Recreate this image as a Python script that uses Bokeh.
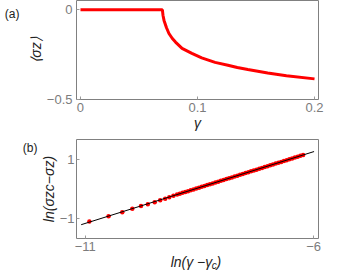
from bokeh.plotting import figure
from bokeh.models import FixedTicker, Range1d, LinearAxis
from bokeh.layouts import column
from bokeh.embed import file_html
from bokeh.resources import INLINE

# ---- panel (a): <sigma_z> versus gamma ----
gamma = [0.000, 0.0700, 0.0705, 0.0714, 0.0735, 0.0756, 0.0785, 0.0812, 0.0868,
         0.0952, 0.1036, 0.1150, 0.1260, 0.1340, 0.1430, 0.1600, 0.1760, 0.2000]
sigma_z = [0.000, 0.000, -0.030, -0.059, -0.100, -0.132, -0.160, -0.180, -0.215,
           -0.243, -0.268, -0.293, -0.309, -0.322, -0.333, -0.352, -0.367, -0.385]

# ---- panel (b): log-log scaling, points and fit ----
ln_dgamma = [-10.91, -10.49, -10.19, -9.97, -9.78, -9.63, -9.48, -9.36, -9.25, -9.16, -9.07,
             -8.99, -8.93, -8.87, -8.81, -8.75, -8.69, -8.63, -8.57, -8.51, -8.45,
             -8.39, -8.33, -8.27, -8.21, -8.15, -8.09, -8.03, -7.97, -7.91, -7.85,
             -7.79, -7.73, -7.67, -7.61, -7.55, -7.49, -7.43, -7.37, -7.31, -7.25,
             -7.19, -7.13, -7.07, -7.01, -6.95, -6.89, -6.83, -6.77, -6.71, -6.65,
             -6.59, -6.53, -6.47, -6.41, -6.35, -6.29, -6.23]
ln_dsigma = [-1.10, -0.92, -0.79, -0.67, -0.58, -0.52, -0.45, -0.38, -0.33, -0.28, -0.23,
             -0.189, -0.160, -0.131, -0.102, -0.073, -0.043, -0.014, 0.015, 0.044, 0.073,
             0.102, 0.132, 0.161, 0.190, 0.219, 0.248, 0.277, 0.307, 0.336, 0.365,
             0.394, 0.423, 0.452, 0.482, 0.511, 0.540, 0.569, 0.598, 0.627, 0.656,
             0.686, 0.715, 0.744, 0.773, 0.802, 0.831, 0.861, 0.890, 0.919, 0.948,
             0.977, 1.006, 1.036, 1.065, 1.094, 1.123, 1.152]
fit_x = [-11.09, -5.99]
fit_y = [-1.21, 1.27]

# ---- ticks and texts ----
a_xticks = [0, 0.1, 0.2]
a_xlabels = ["0", "0.1", "0.2"]
a_yticks = [-0.5, 0]
a_ylabels = ["\u22120.5", "0"]
b_xticks = [-11, -6]
b_xlabels = ["\u221211", "\u22126"]
b_yticks = [-1, 1]
b_ylabels = ["\u22121", "1"]
a_xtitle = "\u03b3"
a_ytitle = "\u27e8\u03c3z\u27e9"
b_ytitle = "ln(\u03c3zc\u2212\u03c3z)"
b_xlabel_parts = [("ln(\u03b3 \u2212\u03b3", False), ("c", True), (")", False)]

TICK_COLOR = "#7c7c7c"
FRAME_COLOR = "#808080"
LABEL_COLOR = "#222222"
FONT = "Liberation Sans"
MAIN, SUB = 14, 10

WID = {'l': 0.222, 'n': 0.556, '(': 0.333, ')': 0.333, ' ': 0.278, 'c': 0.5,
       'z': 0.5, '\u2212': 0.584, '\u03b3': 0.5, '\u03c3': 0.58}


def style(p, xt, xl, yt, yl, xstand, ystand):
    p.outline_line_color = FRAME_COLOR
    p.outline_line_width = 1
    p.grid.visible = False
    p.background_fill_color = "white"
    p.border_fill_color = "white"
    for ax, t, l, st in ((p.xaxis[0], xt, xl, xstand), (p.yaxis[0], yt, yl, ystand)):
        ax.ticker = FixedTicker(ticks=t)
        ax.major_label_overrides = {k: v for k, v in zip(t, l)}
        ax.axis_line_color = None
        ax.major_tick_in = 3
        ax.major_tick_out = 0
        ax.major_tick_line_color = "#9a9a9a"
        ax.minor_tick_line_color = None
        ax.major_label_text_font = FONT
        ax.major_label_text_font_size = "13px"
        ax.major_label_text_color = TICK_COLOR
        ax.major_label_standoff = st


def title(ax, text, standoff):
    ax.axis_label = text
    ax.axis_label_text_font = FONT
    ax.axis_label_text_font_size = f"{MAIN}px"
    ax.axis_label_text_font_style = "italic"
    ax.axis_label_text_color = LABEL_COLOR
    ax.axis_label_standoff = standoff


def text_axis(p, side, ticks, labels, size, standoff, fstyle="italic"):
    ticks = [round(t, 6) for t in ticks]
    ax = LinearAxis(ticker=FixedTicker(ticks=ticks),
                    major_label_overrides={t: s for t, s in zip(ticks, labels)},
                    axis_line_color=None, major_tick_line_color=None,
                    major_tick_in=0, major_tick_out=0,
                    minor_tick_line_color=None, minor_tick_in=0, minor_tick_out=0,
                    major_label_text_font=FONT, major_label_text_font_size=f"{size}px",
                    major_label_text_font_style=fstyle,
                    major_label_text_color=LABEL_COLOR, major_label_standoff=standoff,
                    major_label_orientation="horizontal")
    p.add_layout(ax, side)


def composed(parts, start_px, to_data):
    """Lay out text parts left to right; subscripts go on a second axis."""
    pos = 0.0
    main_t, main_l, sub_t, sub_l = [], [], [], []
    for text, is_sub in parts:
        size = SUB if is_sub else MAIN
        w = sum(WID[ch] for ch in text) * size
        centre = start_px + pos + w / 2
        if is_sub:
            sub_t.append(to_data(centre)); sub_l.append(text)
        else:
            main_t.append(to_data(centre)); main_l.append(text)
        pos += w
    return main_t, main_l, sub_t, sub_l


# ---------------- panel (a) ----------------
xa0, xa1, ya0, ya1 = -0.0034, 0.2034, -0.5, 0.052
A_TOP, A_H = 0, 99
p1 = figure(width=356, height=137, x_range=Range1d(xa0, xa1),
            y_range=Range1d(ya0, ya1), output_backend="svg", toolbar_location=None,
            min_border_left=76, min_border_right=34, min_border_top=0, min_border_bottom=38)
style(p1, a_xticks, a_xlabels, a_yticks, a_ylabels, 3, 4)
title(p1.xaxis[0], a_xtitle, 0)
title(p1.yaxis[0], a_ytitle, 0)
p1.line(gamma, sigma_z, line_color="#ff0000", line_width=3)

ya_of = lambda s: ya1 - (s - A_TOP) * (ya1 - ya0) / A_H
text_axis(p1, "left", [ya_of(13)], ["(a)"], 12, 5, "normal")

# ---------------- panel (b) ----------------
xb0, xb1, yb0, yb1 = -11.192, -5.893, -1.678, 1.678
B_TOP, B_H, B_LEFT, B_W = 139, 99, 70, 248
p2 = figure(width=356, height=137, x_range=Range1d(xb0, xb1),
            y_range=Range1d(yb0, yb1), output_backend="svg", toolbar_location=None,
            min_border_left=70, min_border_right=38, min_border_top=2, min_border_bottom=36)
style(p2, b_xticks, b_xlabels, b_yticks, b_ylabels, 3, 2)
title(p2.yaxis[0], b_ytitle, 0)
p2.scatter(ln_dgamma, ln_dsigma, size=4.5, fill_color="#ff0000", line_color=None)
p2.line(fit_x, fit_y, line_color="#000000", line_width=1)

yb_of = lambda s: yb1 - (s - B_TOP) * (yb1 - yb0) / B_H
xb_of = lambda s: xb0 + (s - B_LEFT) * (xb1 - xb0) / B_W
text_axis(p2, "left", [yb_of(147.5)], ["(b)"], 12, 0, "normal")

mt, ml, st, sl = composed(b_xlabel_parts, 167, xb_of)
text_axis(p2, "below", mt, ml, MAIN, 0)
text_axis(p2, "below", st, sl, SUB, -13)

layout = column(p1, p2, spacing=0)
open("out.html", "w").write(file_html(layout, INLINE))
